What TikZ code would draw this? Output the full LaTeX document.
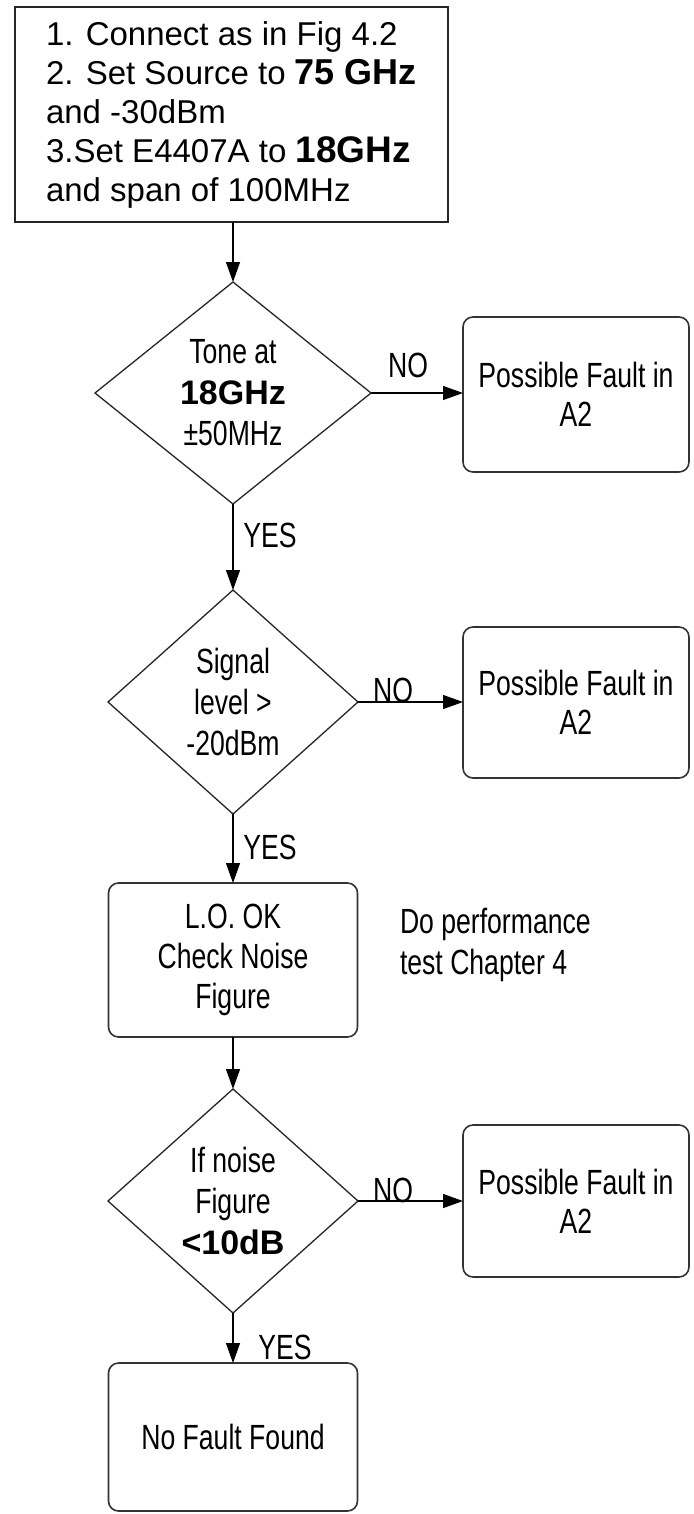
\documentclass[tikz,border=0pt]{standalone}
\usepackage{fontspec}
\setmainfont{Liberation Sans}
\newfontfamily\cond[FakeStretch=0.76]{Liberation Sans}
\usetikzlibrary{shapes.geometric,arrows.meta}
\begin{document}
\begin{tikzpicture}[x=1pt,y=-1pt,
  every node/.style={outer sep=0pt},
  conn/.style={draw=black, line width=1.3pt, -{Triangle[length=20pt,width=14pt]}},
  box/.style={draw=black!80, line width=1.6pt, rectangle, rounded corners=10pt,
    minimum width=226pt, minimum height=153pt, align=center,
    font=\cond\fontsize{35}{39}\selectfont, inner sep=0pt},
  dec/.style={draw=black!85, line width=1.3pt, diamond, minimum width=250pt,
    minimum height=224pt, inner sep=0pt, align=center,
    font=\cond\fontsize{35}{41}\selectfont},
  lbl/.style={font=\cond\fontsize{35}{41}\selectfont, inner sep=0pt}
]
\useasboundingbox (0,0) rectangle (693,1514);
\fill[white] (0,0) rectangle (693,1514);

% start box
\node[draw=black!85, line width=1.6pt, rectangle, minimum width=433pt, minimum height=215pt,
  align=left, font=\fontsize{33}{39}\selectfont, inner sep=0pt] (start) at (231.5,114.5)
  {1. Connect as in Fig 4.2\\
   2. Set Source to {\bfseries\fontsize{36}{39}\selectfont 75 GHz}\\
   and -30dBm\\
   3.Set E4407A to {\bfseries\fontsize{37}{39}\selectfont 18GHz}\\
   and span of 100MHz};

% decision 1
\node[dec, minimum width=276pt, minimum height=222pt] (d1) at (233,393)
  {Tone at\\{\normalfont\bfseries\fontsize{34}{41}\selectfont 18GHz}\\±50MHz};
\node[box, minimum height=155pt] (f1) at (576,394.5) {Possible Fault in\\A2};
\node[lbl] (no1) at (408,365) {NO};
\node[lbl] (yes1) at (270,535) {YES};

% decision 2
\node[dec] (d2) at (233,702) {Signal\\level >\\-20dBm};
\node[box, minimum height=151pt] (f2) at (576,702.5) {Possible Fault in\\A2};
\node[lbl] (no2) at (393,690) {NO};
\node[lbl] (yes2) at (270,847) {YES};

% L.O. box
\node[box, minimum width=249pt, minimum height=154pt, font=\cond\fontsize{35}{40}\selectfont] (lo) at (233,960)
  {L.O. OK\\Check Noise\\Figure};
\node[lbl, align=left, anchor=north west] (perf) at (400,908) {Do performance\\test Chapter 4};

% decision 3
\node[dec] (d3) at (233,1201)
  {If noise\\Figure\\{\normalfont\bfseries\fontsize{34}{41}\selectfont <10dB}};
\node[box, minimum height=152pt] (f3) at (576,1201) {Possible Fault in\\A2};
\node[lbl] (no3) at (393,1190) {NO};
\node[lbl] (yes3) at (285,1347) {YES};

% final
\node[box, minimum width=249pt, minimum height=148pt] (fin) at (233,1437) {No Fault Found};

% connectors
\draw[conn] (d1.north |- start.south) -- (d1.north);
\draw[conn] (d1.east) -- (d1.east -| f1.west);
\draw[conn] (d1.south) -- (d2.north);
\draw[conn] (d2.east) -- (d2.east -| f2.west);
\draw[conn] (d2.south) -- (lo.north);
\draw[conn] (lo.south) -- (d3.north);
\draw[conn] (d3.east) -- (d3.east -| f3.west);
\draw[conn] (d3.south) -- (fin.north);
\end{tikzpicture}
\end{document}
